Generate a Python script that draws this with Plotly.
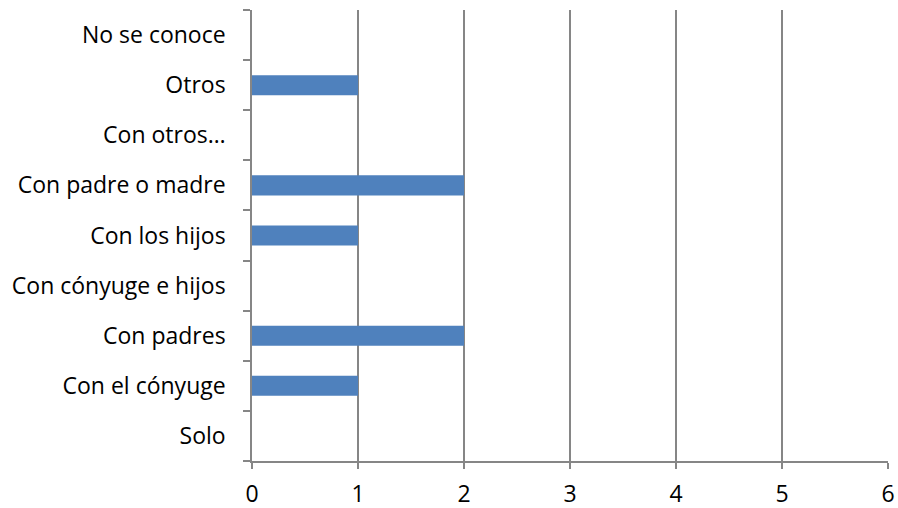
import plotly.graph_objects as go

categories = ["Solo", "Con el cónyuge", "Con padres", "Con cónyuge e hijos",
              "Con los hijos", "Con padre o madre", "Con otros…", "Otros", "No se conoce"]
values = [0, 1, 2, 0, 1, 2, 0, 1, 0]
x_ticks = [0, 1, 2, 3, 4, 5, 6]

fig = go.Figure(go.Bar(
    x=values, y=categories, orientation="h",
    marker=dict(color="#4F81BD", line=dict(width=0)),
))

font = dict(family="Open Sans, Calibri, sans-serif", size=23, color="#000000")

fig.update_layout(
    width=898, height=508,
    margin=dict(l=252, r=10, t=10, b=47),
    paper_bgcolor="white", plot_bgcolor="white",
    bargap=0.6, showlegend=False, font=font,
)
fig.update_xaxes(
    range=[0, 6], tickvals=x_ticks, ticktext=[str(v) for v in x_ticks],
    showgrid=True, gridcolor="#868686", gridwidth=1.5,
    showline=True, linecolor="#868686", linewidth=1.5,
    ticks="outside", ticklen=6, tickcolor="#868686", tickwidth=1.5,
    zeroline=False, ticklabelstandoff=6, fixedrange=True, automargin=False,
)
fig.update_yaxes(
    categoryorder="array", categoryarray=categories,
    showgrid=False, showline=True, linecolor="#868686", linewidth=1.5,
    ticks="outside", ticklen=7, tickcolor="#868686", tickwidth=1.5,
    tickson="boundaries", ticklabelstandoff=20, zeroline=False, fixedrange=True,
    automargin=False,
)

fig.write_html(
    "out.html",
    config={"displayModeBar": False},
    post_script="document.body.style.margin='0';document.body.style.overflow='hidden';",
)
